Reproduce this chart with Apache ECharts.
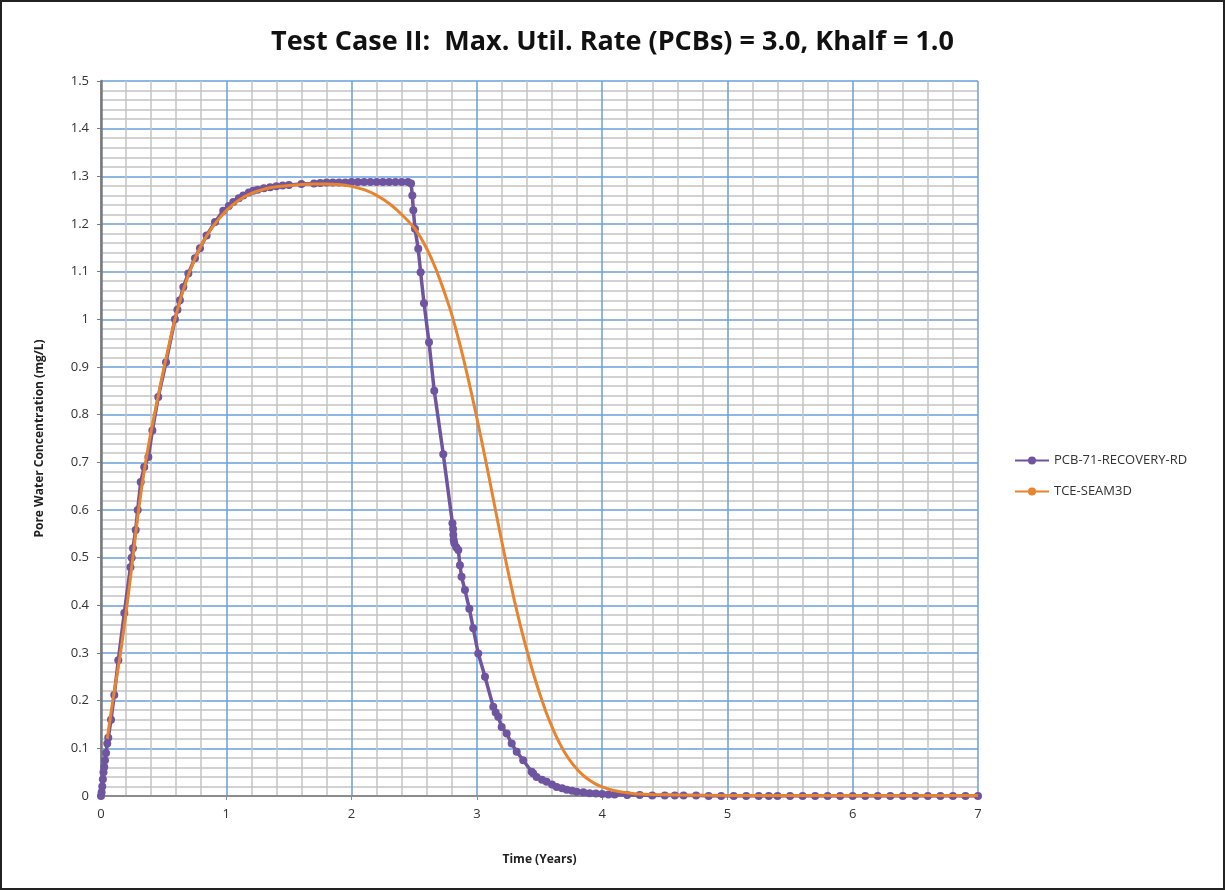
<!DOCTYPE html>
<html>
<head>
<meta charset="utf-8">
<title>Test Case II</title>
<script src="https://cdn.jsdelivr.net/npm/echarts@6/dist/echarts.min.js"></script>
<style>
  html, body { margin: 0; padding: 0; background: #fff; }
  #chart {
    width: 1225px;
    height: 890px;
    box-sizing: border-box;
    border: 2px solid #222;
  }
</style>
</head>
<body>
<div id="chart"></div>
<script>
// PCB-71-RECOVERY-RD (markers + line)
var pcbTime = [0, 0.005, 0.01, 0.015, 0.02, 0.026, 0.032, 0.04, 0.05, 0.058, 0.08, 0.106, 0.138, 0.186,
  0.235, 0.245, 0.255, 0.277, 0.293, 0.317, 0.345, 0.378, 0.41, 0.457, 0.519, 0.59, 0.61, 0.63, 0.657,
  0.697, 0.75, 0.79, 0.843, 0.91, 0.976, 1.02, 1.056, 1.1, 1.136, 1.18, 1.215, 1.25, 1.3, 1.35, 1.4,
  1.45, 1.5, 1.6, 1.7, 1.75, 1.8, 1.85, 1.9, 1.95, 2.0, 2.05, 2.1, 2.15, 2.2, 2.25, 2.3, 2.35, 2.4,
  2.45, 2.475, 2.485, 2.493, 2.506, 2.532, 2.551, 2.578, 2.618, 2.66, 2.732, 2.805, 2.81, 2.812, 2.815,
  2.82, 2.835, 2.852, 2.865, 2.878, 2.905, 2.94, 2.971, 3.011, 3.065, 3.131, 3.15, 3.171, 3.198, 3.238,
  3.278, 3.318, 3.37, 3.437, 3.45, 3.477, 3.52, 3.557, 3.6, 3.637, 3.68, 3.717, 3.76, 3.797, 3.85, 3.9,
  3.95, 4.0, 4.05, 4.1, 4.2, 4.3, 4.4, 4.5, 4.58, 4.65, 4.75, 4.85, 4.95, 5.05, 5.15, 5.25, 5.33, 5.4,
  5.5, 5.6, 5.7, 5.8, 5.9, 6.0, 6.1, 6.2, 6.3, 6.4, 6.5, 6.6, 6.7, 6.8, 6.9, 7.0];
var pcbConc = [0, 0.008, 0.02, 0.035, 0.05, 0.061, 0.075, 0.09, 0.11, 0.122, 0.16, 0.212, 0.285, 0.384,
  0.48, 0.50, 0.52, 0.558, 0.60, 0.659, 0.69, 0.711, 0.767, 0.837, 0.91, 1.0, 1.02, 1.04, 1.068,
  1.096, 1.128, 1.149, 1.176, 1.204, 1.228, 1.238, 1.246, 1.254, 1.26, 1.266, 1.27, 1.272, 1.275, 1.277, 1.279,
  1.281, 1.282, 1.284, 1.285, 1.286, 1.287, 1.287, 1.287, 1.287, 1.288, 1.288, 1.288, 1.288, 1.288, 1.288, 1.288, 1.288, 1.288,
  1.288, 1.285, 1.26, 1.229, 1.19, 1.148, 1.099, 1.034, 0.952, 0.85, 0.717, 0.572, 0.56, 0.548, 0.537,
  0.53, 0.522, 0.516, 0.484, 0.46, 0.432, 0.393, 0.352, 0.299, 0.25, 0.187, 0.175, 0.166, 0.145, 0.131,
  0.11, 0.093, 0.075, 0.051, 0.047, 0.04, 0.034, 0.03, 0.024, 0.019, 0.016, 0.013, 0.011, 0.009, 0.008, 0.006,
  0.005, 0.004, 0.003, 0.003, 0.002, 0.002, 0.001, 0.001, 0.001, 0.001, 0.001, 0, 0, 0, 0, 0, 0, 0,
  0, 0, 0, 0, 0, 0, 0, 0, 0, 0, 0, 0, 0, 0, 0, 0];

// TCE-SEAM3D (smooth line)
var tceTime = [0.05, 0.1, 0.15, 0.2, 0.25, 0.3, 0.35, 0.4, 0.45, 0.5, 0.6, 0.7, 0.8, 0.9, 1.0, 1.1, 1.2, 1.3,
  1.4, 1.5, 1.6, 1.7, 1.8, 1.9, 2.0, 2.1, 2.2, 2.3, 2.4, 2.5, 2.55, 2.6, 2.65, 2.7, 2.75, 2.8, 2.85, 2.9,
  2.95, 3.0, 3.05, 3.1, 3.15, 3.2, 3.25, 3.3, 3.35, 3.4, 3.45, 3.5, 3.55, 3.6, 3.65, 3.7, 3.75, 3.8,
  3.85, 3.9, 3.95, 4.0, 4.1, 4.2, 4.3, 4.4, 4.6, 5.0, 6.0, 7.0];
var tceConc = [0.12, 0.21, 0.29, 0.385, 0.49, 0.6, 0.69, 0.765, 0.83, 0.895, 1.01, 1.095, 1.155, 1.197, 1.228, 1.25, 1.264, 1.273,
  1.278, 1.281, 1.283, 1.284, 1.284, 1.283, 1.279, 1.272, 1.26, 1.243, 1.22, 1.192, 1.172, 1.148, 1.12, 1.087, 1.05, 1.01, 0.962, 0.91,
  0.853, 0.793, 0.73, 0.665, 0.598, 0.533, 0.47, 0.41, 0.355, 0.305, 0.258, 0.216, 0.178, 0.145, 0.116, 0.092, 0.072, 0.056,
  0.043, 0.033, 0.025, 0.019, 0.011, 0.007, 0.004, 0.003, 0.002, 0.001, 0.001, 0.001];

var seriesNames = ['PCB-71-RECOVERY-RD', 'TCE-SEAM3D'];
var chartTitle = 'Test Case II:  Max. Util. Rate (PCBs) = 3.0, Khalf = 1.0';

function pairs (xs, ys) {
  var out = [];
  xs.forEach(function (x, i) { out.push([x, ys[i]]); });
  return out;
}

var myChart = echarts.init(document.getElementById('chart'));
var font = 'Open Sans';
var option = {
  backgroundColor: '#fff',
  animation: false,
  title: {
    text: chartTitle,
    left: 'center',
    top: 22,
    textStyle: { fontFamily: font, fontWeight: 'bold', fontSize: 27, color: '#111' }
  },
  grid: { left: 99, right: 245, top: 79, bottom: 92, containLabel: false },
  legend: {
    orient: 'vertical',
    left: 1007,
    top: 447,
    itemWidth: 34,
    itemHeight: 10,
    itemGap: 18,
    data: seriesNames,
    textStyle: { fontFamily: font, fontSize: 13, color: '#333' }
  },
  xAxis: {
    type: 'value',
    min: 0,
    max: 7,
    interval: 1,
    name: 'Time (Years)',
    nameLocation: 'middle',
    nameGap: 58,
    nameTextStyle: { fontFamily: font, fontSize: 12, fontWeight: 'bold', color: '#222' },
    axisLine: { lineStyle: { color: '#8c8c8c', width: 2 } },
    axisTick: { show: true, length: 4, lineStyle: { color: '#8c8c8c' } },
    axisLabel: { margin: 12, fontFamily: font, fontSize: 13, color: '#333' },
    splitLine: { show: true, lineStyle: { color: '#6a9fdc', width: 1.5 } },
    minorTick: { show: false, splitNumber: 5 },
    minorSplitLine: { show: true, lineStyle: { color: '#c4c4c4', width: 1.5 } }
  },
  yAxis: {
    type: 'value',
    min: 0,
    max: 1.5,
    interval: 0.1,
    name: 'Pore Water Concentration (mg/L)',
    nameLocation: 'middle',
    nameGap: 55,
    nameTextStyle: { fontFamily: font, fontSize: 12, fontWeight: 'bold', color: '#222' },
    axisLine: { show: true, lineStyle: { color: '#7a7a7a', width: 2.5 } },
    axisTick: { show: true, length: 4, lineStyle: { color: '#7a7a7a' } },
    axisLabel: { margin: 12, fontFamily: font, fontSize: 13, color: '#333' },
    splitLine: { show: true, lineStyle: { color: '#6a9fdc', width: 1.5 } },
    minorTick: { show: false, splitNumber: 5 },
    minorSplitLine: { show: true, lineStyle: { color: '#c4c4c4', width: 1.5 } }
  },
  series: [{
    name: seriesNames[0],
    type: 'line',
    data: pairs(pcbTime, pcbConc),
    symbol: 'circle',
    symbolSize: 8,
    showAllSymbol: true,
    z: 2,
    lineStyle: { color: '#6f55a0', width: 3.5 },
    itemStyle: { color: '#6f55a0' }
  }, {
    name: seriesNames[1],
    type: 'line',
    data: pairs(tceTime, tceConc),
    smooth: 0.3,
    symbol: 'none',
    z: 3,
    lineStyle: { color: '#e8832e', width: 3 },
    itemStyle: { color: '#e8832e' }
  }]
};
myChart.setOption(option, true);
</script>
</body>
</html>
